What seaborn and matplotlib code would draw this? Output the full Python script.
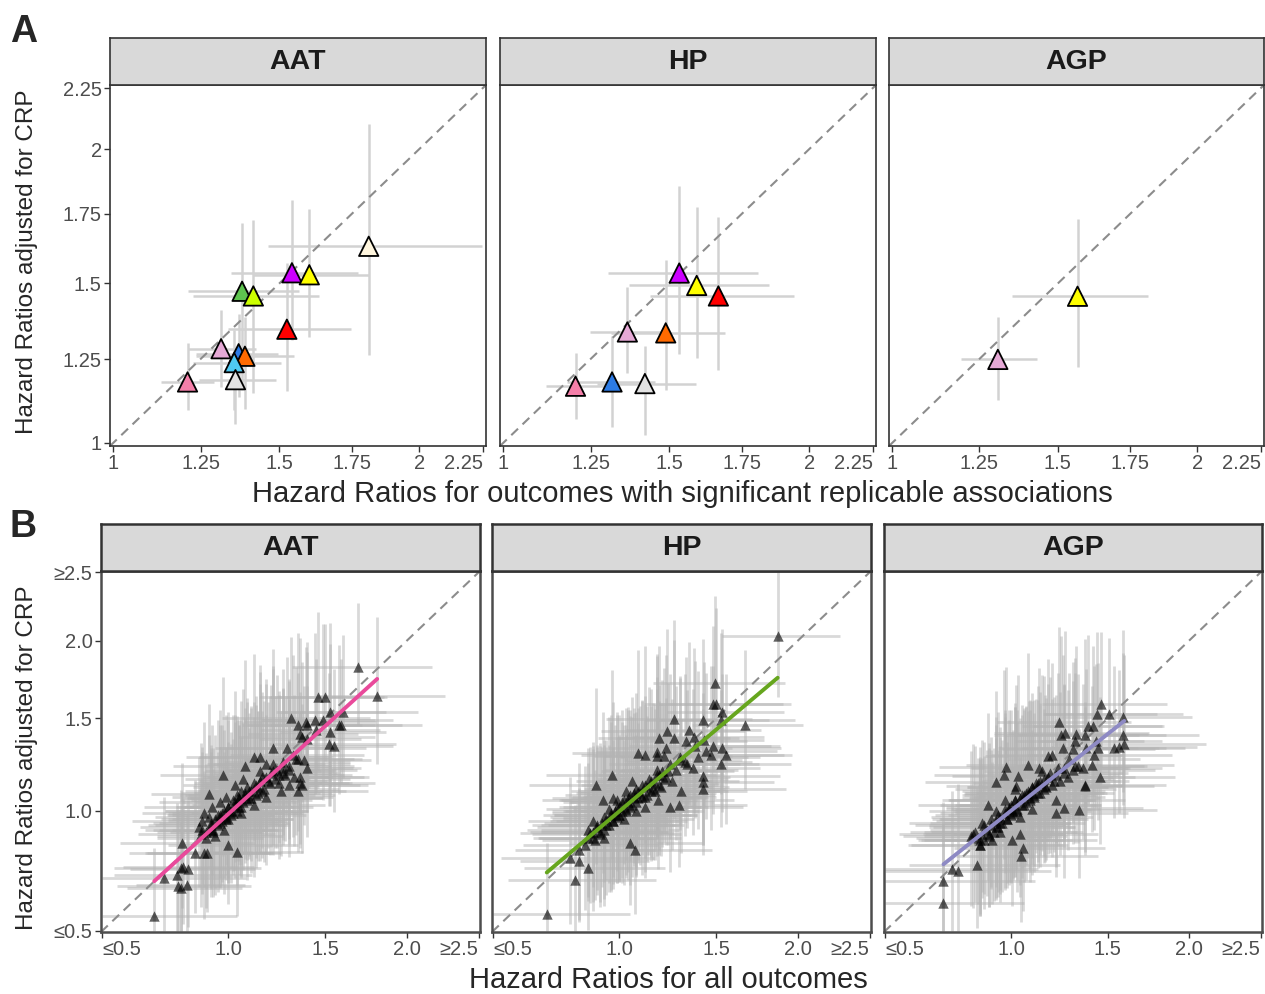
import numpy as np
import pandas as pd
import seaborn as sns
import matplotlib.pyplot as plt

# ---- panel A: outcomes with significant replicable associations ----
proteins = ['AAT', 'HP', 'AGP']

top_protein = ['AAT'] * 12 + ['HP'] * 8 + ['AGP'] * 2
top_outcome = ['pink', 'plum', 'blue', 'orange', 'cyan', 'lightgrey',
               'green', 'yellowgreen', 'purple', 'yellow', 'red', 'cream',
               'purple', 'yellow', 'red', 'plum', 'orange', 'pink', 'blue', 'lightgrey',
               'yellow', 'plum']
top_hr = [1.211, 1.313, 1.368, 1.388, 1.354, 1.358, 1.379, 1.415, 1.542, 1.601, 1.525, 1.811,
          1.533, 1.592, 1.667, 1.364, 1.488, 1.205, 1.316, 1.420,
          1.566, 1.307]
top_hr_lo = [1.133, 1.211, 1.237, 1.237, 1.226, 1.246, 1.211, 1.226, 1.344, 1.413, 1.334, 1.462,
             1.305, 1.370, 1.435, 1.248, 1.312, 1.119, 1.179, 1.271,
             1.351, 1.195]
top_hr_hi = [1.292, 1.424, 1.494, 1.550, 1.506, 1.489, 1.567, 1.633, 1.772, 1.813, 1.747, 2.247,
             1.807, 1.850, 1.942, 1.484, 1.690, 1.294, 1.453, 1.590,
             1.816, 1.431]
top_adj = [1.179, 1.283, 1.267, 1.259, 1.239, 1.186, 1.473, 1.457, 1.537, 1.530, 1.346, 1.631,
           1.536, 1.493, 1.457, 1.337, 1.334, 1.166, 1.179, 1.174,
           1.456, 1.249]
top_adj_lo = [1.094, 1.164, 1.134, 1.099, 1.094, 1.055, 1.154, 1.144, 1.310, 1.320, 1.150, 1.262,
              1.267, 1.252, 1.217, 1.205, 1.154, 1.067, 1.046, 1.022,
              1.226, 1.124]
top_adj_hi = [1.300, 1.409, 1.397, 1.387, 1.343, 1.236, 1.716, 1.726, 1.801, 1.769, 1.570, 2.102,
              1.854, 1.775, 1.738, 1.486, 1.581, 1.270, 1.323, 1.291,
              1.732, 1.387]

outcome_colors = {'pink': '#F57FA9', 'plum': '#E6A9D6', 'blue': '#2C7BE5', 'orange': '#FF6A00',
                  'cyan': '#4FC9F2', 'lightgrey': '#E2E2E2', 'green': '#5EC44F',
                  'yellowgreen': '#CCFF00', 'purple': '#CC00FF', 'yellow': '#FFFF00',
                  'red': '#FF0000', 'cream': '#FFF6DE'}

top_ticks = [1, 1.25, 1.5, 1.75, 2, 2.25]
top_tick_labels = ['1', '1.25', '1.5', '1.75', '2', '2.25']

# ---- panel B: all outcomes ----
aat_hr = [1.69, 1.81, 1.46, 1.50, 1.53, 1.60, 1.58, 1.59, 1.53, 1.52,
          1.55, 1.49, 1.44, 1.39, 1.35, 1.31, 1.36, 1.37, 1.40, 1.40,
          1.45, 1.29, 1.22, 1.12, 1.15, 1.18, 1.22, 1.27, 1.34, 1.38,
          1.40, 1.36, 1.36, 1.37, 1.35, 1.30, 1.26, 1.25, 1.27, 1.08,
          0.975, 0.91, 0.925, 0.89, 0.88, 0.92, 0.875, 0.85, 0.89, 0.905,
          0.795, 0.79, 0.82, 1.00, 1.04, 0.725, 0.775, 0.80, 0.78, 0.79,
          0.815, 0.685,
          0.90, 0.92, 0.93, 0.94, 0.95, 0.96, 0.97, 0.98, 0.99, 1.00,
          1.00, 1.01, 1.02, 1.02, 1.03, 1.04, 1.05, 1.05, 1.06, 1.07,
          1.08, 1.09, 1.10, 1.11, 1.12, 1.13, 1.14, 1.16, 1.17, 1.19,
          1.21, 1.23, 1.24, 0.96, 0.99, 1.03, 1.07, 0.94, 0.98, 1.06,
          1.12, 1.18, 0.87, 0.91, 1.15, 1.28, 1.30, 1.33,
          0.88, 0.90, 0.92, 0.93, 0.95, 0.96, 0.97, 0.99, 1.00, 1.01,
          1.03, 1.04, 1.05, 1.06, 1.08, 1.09, 1.10, 1.11, 1.13, 1.14,
          1.15, 1.16, 1.18, 1.20, 1.22, 1.25, 1.27, 1.30, 1.32, 1.35]
aat_adj = [1.82, 1.64, 1.63, 1.63, 1.54, 1.54, 1.46, 1.46, 1.42, 1.35,
           1.34, 1.49, 1.49, 1.48, 1.46, 1.50, 1.41, 1.39, 1.38, 1.46,
           1.43, 1.33, 1.33, 1.28, 1.28, 1.24, 1.24, 1.22, 1.27, 1.26,
           1.22, 1.17, 1.14, 1.13, 1.10, 1.13, 1.10, 1.14, 1.19, 1.23,
           1.18, 1.085, 1.02, 0.99, 0.95, 0.91, 0.89, 0.805, 0.805, 0.805,
           0.85, 0.74, 0.735, 0.84, 0.81, 0.70, 0.71, 0.745, 0.665, 0.66,
           0.67, 0.554,
           0.90, 0.94, 0.90, 0.96, 0.93, 0.98, 0.95, 1.00, 0.97, 1.02,
           0.96, 1.00, 1.05, 0.99, 1.03, 1.08, 1.02, 1.06, 1.10, 1.04,
           1.08, 1.12, 1.06, 1.10, 1.14, 1.08, 1.12, 1.17, 1.11, 1.15,
           1.19, 1.16, 1.21, 1.04, 1.07, 1.13, 1.16, 0.88, 0.91, 0.99,
           1.03, 1.07, 0.92, 0.97, 1.20, 1.18, 1.21, 1.17,
           0.91, 0.87, 0.93, 0.91, 0.98, 0.94, 0.99, 0.96, 1.02, 0.98,
           1.04, 1.00, 1.06, 1.02, 1.09, 1.05, 1.10, 1.06, 1.13, 1.09,
           1.15, 1.10, 1.17, 1.14, 1.20, 1.18, 1.25, 1.23, 1.29, 1.27]
aat_hr_w = [0.25, 0.22, 0.24, 0.22, 0.20, 0.26, 0.22, 0.28, 0.20, 0.24,
            0.21, 0.25, 0.22, 0.26, 0.24, 0.30, 0.22, 0.27, 0.20, 0.25,
            0.23, 0.30, 0.26, 0.32, 0.28, 0.24, 0.30, 0.27, 0.22, 0.25,
            0.20, 0.24, 0.28, 0.22, 0.26, 0.30, 0.25, 0.28, 0.22, 0.35,
            0.32, 0.30, 0.36, 0.33, 0.38, 0.30, 0.34, 0.36, 0.30, 0.33,
            0.35, 0.38, 0.32, 0.30, 0.28, 0.40, 0.36, 0.34, 0.35, 0.30,
            0.28, 0.42,
            0.26, 0.30, 0.22, 0.28, 0.32, 0.24, 0.27, 0.30, 0.25, 0.22,
            0.28, 0.33, 0.26, 0.30, 0.24, 0.28, 0.31, 0.25, 0.27, 0.23,
            0.29, 0.26, 0.30, 0.24, 0.28, 0.32, 0.25, 0.27, 0.30, 0.24,
            0.26, 0.29, 0.23, 0.31, 0.27, 0.25, 0.28, 0.30, 0.26, 0.24,
            0.29, 0.27, 0.32, 0.28, 0.25, 0.23, 0.26, 0.28,
            0.30, 0.26, 0.33, 0.28, 0.25, 0.31, 0.27, 0.29, 0.24, 0.32,
            0.26, 0.30, 0.28, 0.25, 0.31, 0.27, 0.24, 0.29, 0.26, 0.30,
            0.28, 0.25, 0.27, 0.31, 0.24, 0.28, 0.26, 0.25, 0.27, 0.24]
aat_adj_w = [0.22, 0.28, 0.30, 0.26, 0.32, 0.28, 0.30, 0.25, 0.33, 0.28,
             0.30, 0.35, 0.32, 0.28, 0.34, 0.30, 0.36, 0.29, 0.33, 0.31,
             0.27, 0.35, 0.38, 0.40, 0.36, 0.34, 0.39, 0.32, 0.36, 0.30,
             0.33, 0.35, 0.30, 0.34, 0.31, 0.36, 0.33, 0.38, 0.35, 0.42,
             0.40, 0.38, 0.36, 0.40, 0.34, 0.38, 0.42, 0.36, 0.40, 0.35,
             0.38, 0.40, 0.36, 0.34, 0.38, 0.42, 0.38, 0.35, 0.40, 0.36,
             0.38, 0.40,
             0.32, 0.36, 0.30, 0.38, 0.34, 0.40, 0.33, 0.36, 0.31, 0.38,
             0.35, 0.30, 0.37, 0.33, 0.39, 0.34, 0.36, 0.32, 0.38, 0.35,
             0.33, 0.37, 0.31, 0.36, 0.34, 0.38, 0.32, 0.35, 0.37, 0.33,
             0.36, 0.34, 0.38, 0.40, 0.35, 0.39, 0.37, 0.33, 0.36, 0.34,
             0.38, 0.35, 0.33, 0.37, 0.40, 0.32, 0.36, 0.34,
             0.36, 0.40, 0.34, 0.38, 0.42, 0.35, 0.39, 0.33, 0.41, 0.37,
             0.35, 0.40, 0.34, 0.38, 0.36, 0.42, 0.33, 0.39, 0.37, 0.35,
             0.40, 0.34, 0.38, 0.36, 0.41, 0.33, 0.37, 0.35, 0.39, 0.34]

hp_hr = [1.87, 1.495, 1.48, 1.50, 1.535, 1.53, 1.666, 1.268, 1.426, 1.349,
         1.234, 1.192, 1.270, 1.335, 1.376, 1.430, 1.38, 1.481, 1.472, 1.535,
         1.558, 1.525, 1.423, 1.423, 1.423, 1.088, 1.121, 1.184, 1.229, 1.182,
         1.216, 0.964, 0.894, 0.926, 0.882, 0.867, 0.846, 0.822, 0.783, 0.822,
         0.860, 0.804, 0.691, 1.052, 1.073, 1.296, 1.250, 1.188, 1.308, 1.171,
         1.30, 1.34, 1.37, 1.40, 1.44,
         0.86, 0.88, 0.89, 0.90, 0.91, 0.92, 0.93, 0.94, 0.95, 0.96,
         0.97, 0.98, 0.99, 1.00, 1.00, 1.01, 1.02, 1.03, 1.04, 1.05,
         1.06, 1.07, 1.08, 1.09, 1.10, 1.11, 1.12, 1.13, 1.14, 1.15,
         1.17, 1.19, 1.20, 1.22, 1.24, 1.26, 0.95, 0.99, 1.03, 0.93,
         1.02, 1.08, 1.12, 1.18, 0.97, 1.06,
         0.86, 0.88, 0.90, 0.91, 0.93, 0.94, 0.96, 0.97, 0.99, 1.00,
         1.01, 1.03, 1.04, 1.05, 1.07, 1.08, 1.09, 1.11, 1.12, 1.13,
         1.15, 1.16, 1.18, 1.19, 1.21, 1.23, 1.25, 1.28, 1.30, 1.33]
hp_adj = [2.03, 1.72, 1.59, 1.59, 1.54, 1.49, 1.463, 1.498, 1.489, 1.429,
          1.424, 1.386, 1.386, 1.371, 1.390, 1.375, 1.339, 1.342, 1.291, 1.329,
          1.291, 1.242, 1.178, 1.143, 1.108, 1.300, 1.291, 1.304, 1.329, 1.282,
          1.282, 1.183, 1.130, 1.051, 0.949, 0.894, 0.841, 0.819, 0.783, 0.769,
          0.740, 0.689, 0.558, 0.849, 0.816, 1.026, 1.016, 1.054, 1.096, 1.096,
          1.26, 1.24, 1.22, 1.28, 1.31,
          0.87, 0.90, 0.86, 0.92, 0.89, 0.94, 0.91, 0.96, 0.93, 0.98,
          0.95, 1.00, 0.97, 1.02, 0.98, 1.00, 1.05, 1.01, 1.04, 1.08,
          1.03, 1.07, 1.11, 1.06, 1.09, 1.13, 1.07, 1.12, 1.16, 1.10,
          1.14, 1.18, 1.12, 1.16, 1.20, 1.15, 1.01, 1.05, 1.10, 0.87,
          0.96, 1.00, 1.02, 1.21, 1.06, 1.15,
          0.91, 0.87, 0.93, 0.90, 0.97, 0.93, 0.99, 0.95, 1.02, 0.98,
          1.04, 1.00, 1.06, 1.02, 1.09, 1.04, 1.10, 1.07, 1.13, 1.08,
          1.15, 1.11, 1.18, 1.13, 1.20, 1.17, 1.24, 1.21, 1.28, 1.25]
hp_hr_w = [0.20, 0.25, 0.28, 0.24, 0.22, 0.26, 0.20, 0.30, 0.24, 0.27,
           0.30, 0.28, 0.25, 0.23, 0.26, 0.22, 0.28, 0.24, 0.26, 0.21,
           0.23, 0.25, 0.28, 0.26, 0.30, 0.32, 0.30, 0.28, 0.26, 0.29,
           0.27, 0.34, 0.36, 0.32, 0.35, 0.38, 0.34, 0.36, 0.40, 0.33,
           0.35, 0.38, 0.42, 0.30, 0.32, 0.26, 0.28, 0.30, 0.25, 0.29,
           0.24, 0.27, 0.25, 0.23, 0.26,
           0.30, 0.34, 0.28, 0.32, 0.36, 0.30, 0.33, 0.28, 0.31, 0.35,
           0.29, 0.32, 0.27, 0.30, 0.33, 0.28, 0.31, 0.26, 0.29, 0.32,
           0.27, 0.30, 0.25, 0.28, 0.31, 0.26, 0.29, 0.27, 0.24, 0.28,
           0.26, 0.23, 0.27, 0.25, 0.22, 0.26, 0.32, 0.29, 0.27, 0.34,
           0.30, 0.28, 0.26, 0.24, 0.31, 0.27,
           0.33, 0.29, 0.35, 0.31, 0.28, 0.34, 0.30, 0.32, 0.27, 0.33,
           0.29, 0.31, 0.28, 0.30, 0.26, 0.32, 0.29, 0.27, 0.30, 0.28,
           0.25, 0.29, 0.27, 0.26, 0.28, 0.25, 0.27, 0.24, 0.26, 0.25]
hp_adj_w = [0.22, 0.30, 0.28, 0.34, 0.30, 0.32, 0.28, 0.36, 0.30, 0.33,
            0.38, 0.35, 0.37, 0.32, 0.34, 0.30, 0.33, 0.31, 0.35, 0.29,
            0.32, 0.30, 0.34, 0.31, 0.33, 0.40, 0.42, 0.38, 0.36, 0.39,
            0.35, 0.42, 0.40, 0.38, 0.36, 0.40, 0.38, 0.42, 0.40, 0.37,
            0.39, 0.40, 0.42, 0.36, 0.38, 0.32, 0.34, 0.36, 0.31, 0.35,
            0.33, 0.30, 0.32, 0.34, 0.31,
            0.36, 0.40, 0.34, 0.38, 0.42, 0.35, 0.39, 0.33, 0.37, 0.41,
            0.34, 0.38, 0.36, 0.40, 0.35, 0.39, 0.33, 0.37, 0.41, 0.34,
            0.38, 0.36, 0.40, 0.33, 0.37, 0.35, 0.39, 0.34, 0.38, 0.36,
            0.33, 0.37, 0.35, 0.31, 0.36, 0.34, 0.40, 0.37, 0.35, 0.39,
            0.36, 0.34, 0.38, 0.33, 0.41, 0.35,
            0.38, 0.42, 0.36, 0.40, 0.35, 0.39, 0.43, 0.37, 0.41, 0.36,
            0.40, 0.34, 0.38, 0.42, 0.36, 0.39, 0.35, 0.41, 0.37, 0.34,
            0.38, 0.36, 0.40, 0.35, 0.37, 0.33, 0.36, 0.34, 0.32, 0.35]

agp_hr = [1.463, 1.439, 1.51, 1.587, 1.389, 1.420, 1.371, 1.326, 1.269, 1.235,
          1.247, 1.321, 1.256, 1.308, 1.380, 1.444, 1.426, 1.411, 1.335, 1.365,
          1.308, 1.435, 1.457, 1.373, 1.591, 1.596, 1.538, 1.567, 0.975, 0.966,
          0.933, 1.033, 1.082, 1.134, 1.179, 1.201, 1.022, 1.085, 0.896, 0.867,
          0.832, 0.820, 0.911, 0.860, 0.769, 0.743, 0.710, 0.710, 0.849, 1.056,
          1.049, 1.006, 1.040, 1.221, 1.264, 1.221, 1.162, 1.371, 1.343,
          0.85, 0.86, 0.87, 0.88, 0.89, 0.90, 0.91, 0.92, 0.93, 0.94,
          0.95, 0.96, 0.97, 0.98, 0.99, 1.00, 1.00, 1.01, 1.02, 1.03,
          1.04, 1.05, 1.06, 1.07, 1.08, 1.09, 1.10, 1.11, 1.12, 1.13,
          1.14, 1.16, 1.18, 1.20, 1.22, 1.24, 0.93, 0.97, 1.02, 0.95,
          1.04, 1.10, 1.15, 1.26, 1.28,
          0.84, 0.86, 0.88, 0.90, 0.91, 0.93, 0.94, 0.95, 0.97, 0.98,
          0.99, 1.01, 1.02, 1.03, 1.05, 1.06, 1.07, 1.09, 1.10, 1.11,
          1.13, 1.14, 1.16, 1.17, 1.19, 1.21, 1.23, 1.26, 1.29, 1.32]
agp_adj = [1.589, 1.528, 1.528, 1.508, 1.453, 1.453, 1.404, 1.410, 1.414, 1.478,
           1.404, 1.366, 1.329, 1.323, 1.329, 1.329, 1.291, 1.236, 1.227, 1.219,
           1.210, 1.366, 1.171, 1.127, 1.404, 1.353, 1.329, 1.335, 1.224, 1.183,
           1.143, 1.174, 1.236, 1.219, 1.282, 1.291, 1.122, 1.088, 1.029, 0.941,
           0.887, 0.879, 0.864, 0.841, 0.729, 0.736, 0.686, 0.601, 0.754, 0.826,
           0.790, 0.864, 0.891, 0.989, 1.013, 1.054, 1.122, 1.126, 1.002,
           0.87, 0.84, 0.89, 0.86, 0.91, 0.88, 0.93, 0.90, 0.95, 0.92,
           0.97, 0.94, 0.99, 0.96, 1.01, 0.98, 1.03, 1.00, 1.05, 1.01,
           1.06, 1.03, 1.08, 1.04, 1.10, 1.06, 1.12, 1.08, 1.14, 1.09,
           1.15, 1.11, 1.17, 1.13, 1.18, 1.15, 1.00, 1.05, 1.11, 0.90,
           0.97, 1.01, 1.20, 1.22, 1.17,
           0.90, 0.86, 0.93, 0.89, 0.96, 0.92, 0.98, 0.94, 1.01, 0.96,
           1.02, 0.99, 1.05, 1.00, 1.08, 1.03, 1.09, 1.05, 1.12, 1.07,
           1.14, 1.09, 1.16, 1.12, 1.19, 1.15, 1.22, 1.19, 1.27, 1.23]
agp_hr_w = [0.24, 0.22, 0.26, 0.24, 0.28, 0.25, 0.30, 0.27, 0.32, 0.28,
            0.30, 0.26, 0.29, 0.31, 0.27, 0.25, 0.28, 0.30, 0.26, 0.29,
            0.31, 0.24, 0.27, 0.30, 0.26, 0.28, 0.25, 0.27, 0.34, 0.36,
            0.38, 0.33, 0.30, 0.32, 0.29, 0.28, 0.35, 0.31, 0.38, 0.40,
            0.42, 0.38, 0.36, 0.40, 0.44, 0.42, 0.45, 0.40, 0.38, 0.34,
            0.32, 0.36, 0.33, 0.28, 0.30, 0.27, 0.31, 0.26, 0.29,
            0.34, 0.38, 0.32, 0.36, 0.30, 0.35, 0.33, 0.37, 0.31, 0.34,
            0.36, 0.30, 0.33, 0.35, 0.29, 0.32, 0.36, 0.30, 0.34, 0.31,
            0.28, 0.33, 0.30, 0.27, 0.32, 0.29, 0.31, 0.26, 0.30, 0.28,
            0.27, 0.29, 0.26, 0.28, 0.25, 0.27, 0.35, 0.32, 0.30, 0.36,
            0.31, 0.28, 0.27, 0.25, 0.26,
            0.36, 0.32, 0.38, 0.34, 0.31, 0.35, 0.33, 0.37, 0.30, 0.34,
            0.32, 0.29, 0.33, 0.31, 0.28, 0.32, 0.30, 0.27, 0.31, 0.29,
            0.26, 0.30, 0.28, 0.27, 0.29, 0.26, 0.28, 0.25, 0.27, 0.26]
agp_adj_w = [0.26, 0.30, 0.28, 0.32, 0.34, 0.30, 0.36, 0.33, 0.38, 0.35,
             0.37, 0.32, 0.36, 0.34, 0.31, 0.33, 0.35, 0.32, 0.37, 0.34,
             0.36, 0.30, 0.33, 0.35, 0.31, 0.34, 0.32, 0.30, 0.40, 0.42,
             0.38, 0.41, 0.44, 0.40, 0.38, 0.36, 0.42, 0.39, 0.40, 0.38,
             0.42, 0.40, 0.37, 0.41, 0.44, 0.40, 0.42, 0.45, 0.39, 0.37,
             0.40, 0.38, 0.36, 0.34, 0.37, 0.35, 0.38, 0.33, 0.36,
             0.38, 0.42, 0.36, 0.40, 0.37, 0.41, 0.35, 0.39, 0.43, 0.36,
             0.40, 0.38, 0.42, 0.35, 0.39, 0.37, 0.41, 0.36, 0.40, 0.38,
             0.35, 0.39, 0.37, 0.41, 0.34, 0.38, 0.36, 0.40, 0.35, 0.39,
             0.37, 0.34, 0.38, 0.36, 0.33, 0.37, 0.41, 0.38, 0.36, 0.40,
             0.37, 0.35, 0.39, 0.34, 0.36,
             0.40, 0.44, 0.38, 0.42, 0.37, 0.41, 0.45, 0.39, 0.43, 0.38,
             0.42, 0.36, 0.40, 0.44, 0.38, 0.41, 0.37, 0.43, 0.39, 0.36,
             0.40, 0.38, 0.42, 0.37, 0.39, 0.35, 0.38, 0.36, 0.34, 0.37]

line_colors = {'AAT': '#E94A9B', 'HP': '#66A61E', 'AGP': '#8E8AC4'}
bottom_ticks = [0.5, 1.0, 1.5, 2.0, 2.5]
bottom_tick_labels = ['≤0.5', '1.0', '1.5', '2.0', '≥2.5']

# ---- build tables ----
top_df = pd.DataFrame({'protein': top_protein, 'outcome': top_outcome,
                       'hr': top_hr, 'hr_lo': top_hr_lo, 'hr_hi': top_hr_hi,
                       'adj': top_adj, 'adj_lo': top_adj_lo, 'adj_hi': top_adj_hi})

frames = []
for prot, hr, adj, wx, wy in [('AAT', aat_hr, aat_adj, aat_hr_w, aat_adj_w),
                              ('HP', hp_hr, hp_adj, hp_hr_w, hp_adj_w),
                              ('AGP', agp_hr, agp_adj, agp_hr_w, agp_adj_w)]:
    d = pd.DataFrame({'hr': hr, 'adj': adj, 'wx': wx, 'wy': wy})
    d['protein'] = prot
    frames.append(d)
all_df = pd.concat(frames, ignore_index=True)
all_df['hr_lo'] = (all_df.hr * np.exp(-all_df.wx)).clip(0.5, 2.5)
all_df['hr_hi'] = (all_df.hr * np.exp(all_df.wx)).clip(0.5, 2.5)
all_df['adj_lo'] = (all_df.adj * np.exp(-all_df.wy)).clip(0.5, 2.5)
all_df['adj_hi'] = (all_df.adj * np.exp(all_df.wy)).clip(0.5, 2.5)

# sqrt axis: work in sqrt-transformed coordinates
for d in (top_df, all_df):
    for c in ['hr', 'hr_lo', 'hr_hi', 'adj', 'adj_lo', 'adj_hi']:
        d['s_' + c] = np.sqrt(d[c])

# ---- figure ----
sns.set_theme(style='ticks')
plt.rcParams['font.family'] = ['Liberation Sans', 'DejaVu Sans']

W, H = 1265, 994
fig = plt.figure(figsize=(W / 100, H / 100), dpi=100)


def px_axes(x0, y0, x1, y1):
    return fig.add_axes([x0 / W, 1 - y1 / H, (x1 - x0) / W, (y1 - y0) / H])


def strip(x0, y0, x1, y1, label, lw):
    s = px_axes(x0, y0, x1, y1)
    s.set_facecolor('#D9D9D9')
    s.set_xticks([])
    s.set_yticks([])
    for sp in s.spines.values():
        sp.set_color('#333333')
        sp.set_linewidth(lw)
    s.text(0.5, 0.48, label, ha='center', va='center', fontsize=20.5,
           fontweight='bold', color='#1A1A1A', transform=s.transAxes)


def style_axes(ax, lw, color, first, shift_first):
    for sp in ax.spines.values():
        sp.set_visible(True)
        sp.set_color(color)
        sp.set_linewidth(lw)
    ax.tick_params(labelsize=14.5, labelcolor='#4D4D4D', length=4,
                   width=1, color='#333333', pad=2)
    if not first:
        ax.tick_params(axis='y', length=0)
    labels = ax.get_xticklabels()
    if shift_first:
        labels[0].set_horizontalalignment('left')
    labels[-1].set_horizontalalignment('right')
    ax.set_xlabel('')
    ax.set_ylabel('')


dash = (0, (4.5, 3))

# panel A
top_x = [(110, 486), (500, 876), (889, 1264)]
tlo, thi = 0.9955, 1.5045
for i, prot in enumerate(proteins):
    x0, x1 = top_x[i]
    ax = px_axes(x0, 85, x1, 446)
    strip(x0, 38, x1, 85, prot, 1.2)
    sub = top_df[top_df.protein == prot]
    ax.hlines(sub.s_adj, sub.s_hr_lo, sub.s_hr_hi, color='#D2D2D2', lw=1.8, zorder=1)
    ax.vlines(sub.s_hr, sub.s_adj_lo, sub.s_adj_hi, color='#D2D2D2', lw=1.8, zorder=1)
    ax.plot([tlo, thi], [tlo, thi], color='#8C8C8C', lw=1.5, linestyle=dash, zorder=2)
    sns.scatterplot(data=sub, x='s_hr', y='s_adj', hue='outcome', palette=outcome_colors,
                    marker='^', s=195, edgecolor='black', linewidth=1.3,
                    legend=False, ax=ax, zorder=3)
    ax.set_xlim(tlo, thi)
    ax.set_ylim(tlo, thi)
    ax.set_xticks(np.sqrt(top_ticks))
    ax.set_xticklabels(top_tick_labels)
    ax.set_yticks(np.sqrt(top_ticks))
    ax.set_yticklabels(top_tick_labels if i == 0 else [])
    style_axes(ax, 1.2, '#333333', i == 0, False)

# panel B
bot_x = [(101, 480), (492, 871), (884, 1262)]
blo, bhi = np.sqrt(0.5) - 0.003, np.sqrt(2.5) + 0.003
for i, prot in enumerate(proteins):
    x0, x1 = bot_x[i]
    ax = px_axes(x0, 571, x1, 932)
    strip(x0, 524, x1, 571, prot, 1.8)
    sub = all_df[all_df.protein == prot]
    ax.hlines(sub.s_adj, sub.s_hr_lo, sub.s_hr_hi, color='#B4B4B4', alpha=0.5,
              lw=2.0, zorder=1)
    ax.vlines(sub.s_hr, sub.s_adj_lo, sub.s_adj_hi, color='#B4B4B4', alpha=0.5,
              lw=2.0, zorder=1)
    ax.plot([blo, bhi], [blo, bhi], color='#8C8C8C', lw=1.5, linestyle=dash, zorder=2)
    sns.scatterplot(data=sub, x='s_hr', y='s_adj', color='black', alpha=0.62,
                    marker='^', s=56, linewidth=0, legend=False, ax=ax, zorder=3)
    sns.regplot(data=sub, x='s_hr', y='s_adj', scatter=False, ci=None,
                color=line_colors[prot], line_kws={'lw': 2.8, 'zorder': 4}, ax=ax)
    ax.set_xlim(blo, bhi)
    ax.set_ylim(blo, bhi)
    ax.set_xticks(np.sqrt(bottom_ticks))
    ax.set_xticklabels(bottom_tick_labels)
    ax.set_yticks(np.sqrt(bottom_ticks))
    ax.set_yticklabels(bottom_tick_labels if i == 0 else [])
    style_axes(ax, 1.8, '#4D4D4D', i == 0, True)

# shared titles and panel tags
fig.text(682 / W, 1 - 494 / H, 'Hazard Ratios for outcomes with significant replicable associations',
         ha='center', va='center', fontsize=21)
fig.text(27 / W, 1 - 262 / H, 'Hazard Ratios adjusted for CRP', ha='center', va='center',
         rotation=90, fontsize=17.5)
fig.text(668 / W, 1 - 980 / H, 'Hazard Ratios for all outcomes', ha='center', va='center',
         fontsize=21)
fig.text(27 / W, 1 - 758 / H, 'Hazard Ratios adjusted for CRP', ha='center', va='center',
         rotation=90, fontsize=17.5)
fig.text(10 / W, 1 - 32 / H, 'A', ha='left', va='center', fontsize=27, fontweight='bold')
fig.text(10 / W, 1 - 527 / H, 'B', ha='left', va='center', fontsize=27, fontweight='bold')

fig.savefig('out.png', dpi=100)
